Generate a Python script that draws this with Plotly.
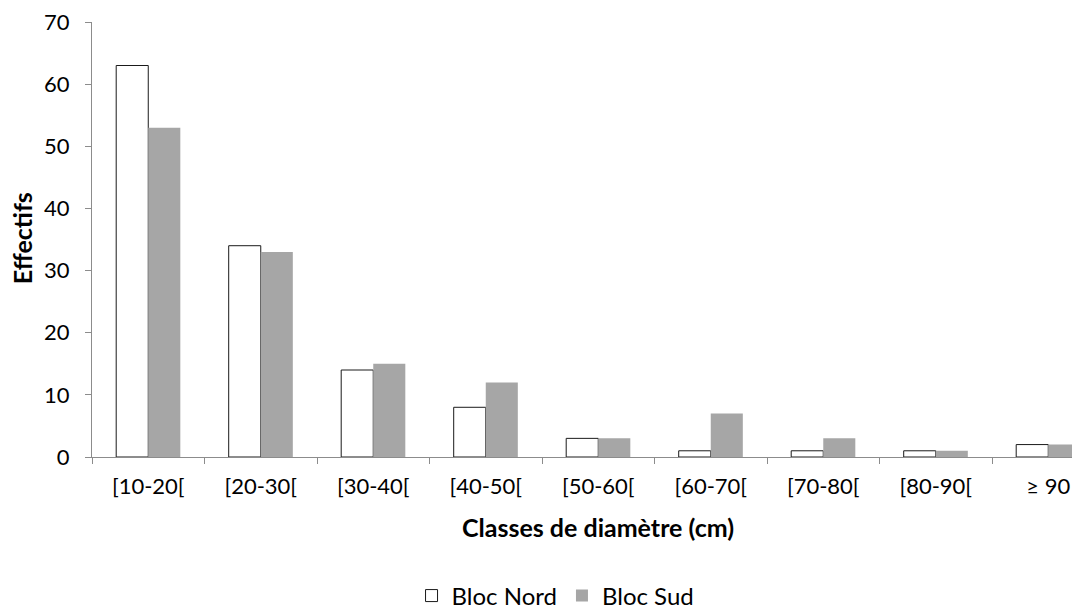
import plotly.graph_objects as go

categories = ["[10-20[", "[20-30[", "[30-40[", "[40-50[", "[50-60[", "[60-70[", "[70-80[", "[80-90[", "≥ 90"]
nord = [63, 34, 14, 8, 3, 1, 1, 1, 2]
sud = [53, 33, 15, 12, 3, 7, 3, 1, 2]
y_ticks = [0, 10, 20, 30, 40, 50, 60, 70]

FONT = "Lato"
AXIS = "#8c8c8c"

fig = go.Figure()
fig.add_trace(go.Bar(x=categories, y=nord, name="Bloc Nord",
                     marker=dict(color="white", line=dict(color="#1a1a1a", width=1))))
fig.add_trace(go.Bar(x=categories, y=sud, name="Bloc Sud",
                     marker=dict(color="#a6a6a6", line=dict(width=0))))

fig.update_layout(
    width=1064, height=602,
    margin=dict(l=84, r=0, t=14, b=153, autoexpand=False),
    paper_bgcolor="white", plot_bgcolor="white",
    barmode="group", bargap=0.43, bargroupgap=0,
    font=dict(family=FONT, size=22, color="black"),
    showlegend=True,
    legend=dict(orientation="h", x=0.473, xanchor="center", yref="container",
                y=0.0233, yanchor="middle",
                font=dict(size=24), itemwidth=30, traceorder="normal"),
    xaxis=dict(range=[-0.5, 8.211], showline=True, linecolor=AXIS, linewidth=1,
               ticks="outside", tickson="boundaries", ticklen=6, tickcolor=AXIS,
               showgrid=False, tickfont=dict(size=22), ticklabelstandoff=10,
               ticklabeloverflow="allow"),
    yaxis=dict(range=[0, 70], tickvals=y_ticks,
               showline=True, linecolor=AXIS, linewidth=1,
               ticks="outside", ticklen=6, tickcolor=AXIS, showgrid=False,
               zeroline=False, tickfont=dict(size=22), ticklabelstandoff=11,
               ticklabeloverflow="allow"),
    annotations=[
        dict(text="<b>Classes de diamètre (cm)</b>", xref="paper", yref="paper",
             x=0.5164, y=-0.161, xanchor="center", yanchor="middle", showarrow=False,
             font=dict(size=25)),
        dict(text="<b>Effectifs</b>", xref="paper", yref="paper", textangle=-90,
             x=-0.0714, y=0.503, xanchor="center", yanchor="middle", showarrow=False,
             font=dict(size=25)),
    ],
)

fig.write_html("out.html")
